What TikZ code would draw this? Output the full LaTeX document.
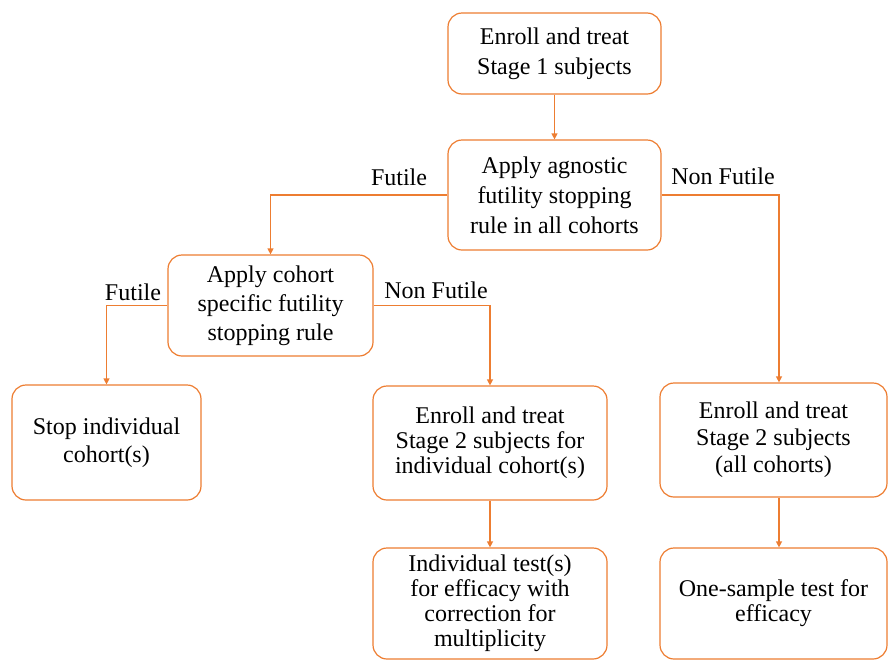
\documentclass[tikz,border=0pt]{standalone}
\usepackage{fontspec}
\setmainfont{Liberation Serif}
\usetikzlibrary{arrows.meta}
\definecolor{boxorange}{RGB}{237,125,49}
\begin{document}
\begin{tikzpicture}[x=1pt,y=-1pt,>={Triangle[length=6pt,width=6pt]},
 font=\fontsize{24}{30}\selectfont,
 stage/.style={draw=boxorange,line width=1.2pt,rounded corners=14pt,align=center,inner sep=2pt},
 tight/.style={font=\fontsize{24}{#1}\selectfont},
 link/.style={draw=boxorange,line width=1.2pt,->},
 lbl/.style={inner sep=0pt}]
\useasboundingbox (0,0) rectangle (888,659);
\node[stage,minimum width=213pt,minimum height=81pt] (enroll1) at (554.5,53.5) {Enroll and treat\\Stage 1 subjects};
\node[stage,minimum width=213pt,minimum height=110pt] (agnostic) at (554.5,195) {Apply agnostic\\futility stopping\\rule in all cohorts};
\node[stage,tight=29,minimum width=205pt,minimum height=101pt] (cohort) at (270.5,305.5) {Apply cohort\\specific futility\\stopping rule};
\node[stage,tight=28,minimum width=189pt,minimum height=115pt] (stop) at (106.5,442.5) {Stop individual\\cohort(s)};
\node[stage,tight=25,minimum width=234pt,minimum height=114pt] (indiv2) at (490,443) {Enroll and treat\\Stage 2 subjects for\\individual cohort(s)};
\node[stage,tight=25,minimum width=234pt,minimum height=111pt] (indivtest) at (490,603.5) {Individual test(s)\\for efficacy with\\correction for\\multiplicity};
\node[stage,tight=27,minimum width=227pt,minimum height=114pt] (allstage2) at (773.5,440) {Enroll and treat\\Stage 2 subjects\\(all cohorts)};
\node[stage,tight=25,minimum width=227pt,minimum height=111pt] (onesample) at (773.5,603.5) {One-sample test for\\efficacy};
% decision labels
\node[lbl] (futtop) at (399,177) {Futile};
\node[lbl] (nonfuttop) at (723,176) {Non Futile};
\node[lbl] (futlow) at (133,292) {Futile};
\node[lbl] (nonfutlow) at (436,290) {Non Futile};
% connectors
\draw[link] (enroll1) -- (agnostic);
\draw[link] (agnostic.west) -| (cohort.north);
\draw[link] (agnostic.east) -| ([xshift=5.5pt]allstage2.north);
\draw[link] (cohort.west) -| (stop.north);
\draw[link] (cohort.east) -| (indiv2.north);
\draw[link] (indiv2) -- (indivtest);
\draw[link] ([xshift=5.5pt]allstage2.south) -- ([xshift=5.5pt]onesample.north);
\end{tikzpicture}
\end{document}
